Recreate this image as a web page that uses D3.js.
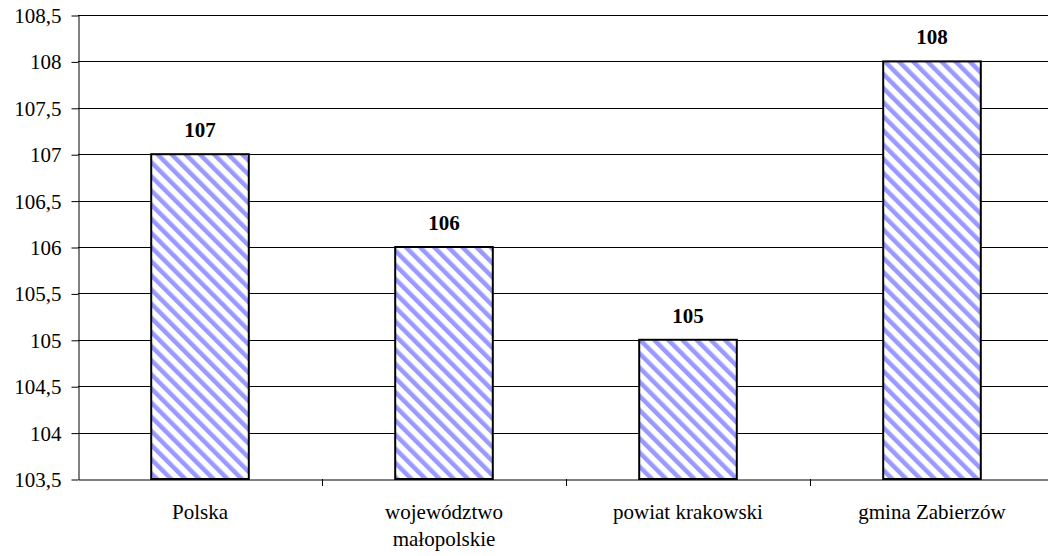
<!DOCTYPE html>
<html>
<head>
<meta charset="utf-8">
<script src="https://cdn.jsdelivr.net/npm/d3@7"></script>
<style>
  body { margin: 0; background: #fff; }
</style>
</head>
<body>
<svg id="canvas" width="1048" height="556" font-family="'Liberation Serif', 'DejaVu Serif'"></svg>
<script>
// data
const categories = ["Polska", "województwo małopolskie", "powiat krakowski", "gmina Zabierzów"];
const values = [107, 106, 105, 108];
const yTicks = [103.5, 104, 104.5, 105, 105.5, 106, 106.5, 107, 107.5, 108, 108.5];

const serif = "'Liberation Serif', 'DejaVu Serif'";

let svg = d3.select("#canvas");

const plotLeft = 78, plotRight = 1054, plotTop = 15, plotBottom = 479;

// hatch pattern for the bars
let defs = svg.append("defs");
defs.append("pattern")
  .attr("id", "hatch")
  .attr("patternUnits", "userSpaceOnUse")
  .attr("width", 10)
  .attr("height", 10)
  .attr("patternTransform", "rotate(-45)")
  .call(p => {
    p.append("rect").attr("width", 10).attr("height", 10).attr("fill", "#fff");
    p.append("rect").attr("width", 4.5).attr("height", 10).attr("fill", "#9999ff");
  });

let x = d3.scaleBand()
  .domain(categories)
  .range([plotLeft, plotRight])
  .paddingInner(0)
  .paddingOuter(0);

let y = d3.scaleLinear()
  .domain([103.5, 108.5])
  .range([plotBottom, plotTop]);

const fmt = d => String(d).replace(".", ",");

// gridlines
svg.append("g")
  .selectAll("line")
  .data(yTicks.slice(1))
  .enter()
  .append("line")
  .attr("x1", plotLeft)
  .attr("x2", plotRight)
  .attr("y1", d => Math.round(y(d)) + 0.5)
  .attr("y2", d => Math.round(y(d)) + 0.5)
  .attr("stroke", "#000")
  .attr("stroke-width", 1);

// y axis
let yAxis = svg.append("g")
  .attr("transform", `translate(${plotLeft + 0.5},0.5)`)
  .call(d3.axisLeft(y).tickValues(yTicks).tickFormat(fmt).tickSize(7).tickSizeOuter(0));
yAxis.attr("font-family", serif).attr("font-size", 21);
yAxis.select(".domain").attr("stroke", "#000");
yAxis.selectAll(".tick line").attr("stroke", "#000");
yAxis.selectAll(".tick text")
  .attr("x", -17)
  .attr("dy", "0.33em")
  .attr("font-family", serif)
  .attr("fill", "#000");

// bars
let bw = x.bandwidth() * 0.4;
svg.append("g")
  .selectAll(".bar")
  .data(values)
  .enter()
  .append("rect")
  .classed("bar", true)
  .attr("x", (d, i) => x(categories[i]) + (x.bandwidth() - bw) / 2)
  .attr("y", d => y(d))
  .attr("width", bw)
  .attr("height", d => y(103.5) - y(d))
  .attr("fill", "url(#hatch)")
  .attr("stroke", "#000")
  .attr("stroke-width", 2);

// value labels
svg.append("g")
  .selectAll("text")
  .data(values)
  .enter()
  .append("text")
  .attr("x", (d, i) => x(categories[i]) + x.bandwidth() / 2)
  .attr("y", d => y(d) - 17)
  .attr("text-anchor", "middle")
  .attr("font-family", serif)
  .attr("font-size", 21)
  .attr("font-weight", "bold")
  .text(d => d);

// x axis
let xAxis = svg.append("g")
  .attr("transform", `translate(0.5,${plotBottom + 0.5})`)
  .call(d3.axisBottom(x).tickSize(0).tickSizeOuter(0));
xAxis.select(".domain").attr("stroke", "#000");
xAxis.selectAll(".tick text").remove();

// band boundary ticks
svg.append("g")
  .selectAll("line")
  .data(categories.slice(1))
  .enter()
  .append("line")
  .attr("x1", d => Math.round(x(d)) + 0.5)
  .attr("x2", d => Math.round(x(d)) + 0.5)
  .attr("y1", plotBottom)
  .attr("y2", plotBottom + 7)
  .attr("stroke", "#000");

// category labels (wrapped like the original)
const lines = ["Polska", "województwo|małopolskie", "powiat krakowski", "gmina Zabierzów"];
let labels = svg.append("g")
  .selectAll("text")
  .data(categories)
  .enter()
  .append("text")
  .attr("x", d => x(d) + x.bandwidth() / 2)
  .attr("y", 519)
  .attr("text-anchor", "middle")
  .attr("font-family", serif)
  .attr("font-size", 21);
labels.each(function(d, i) {
  let t = d3.select(this);
  lines[i].split("|").forEach((s, k) => {
    t.append("tspan")
      .attr("x", x(d) + x.bandwidth() / 2)
      .attr("dy", k === 0 ? 0 : 27)
      .text(s);
  });
});
</script>
</body>
</html>
